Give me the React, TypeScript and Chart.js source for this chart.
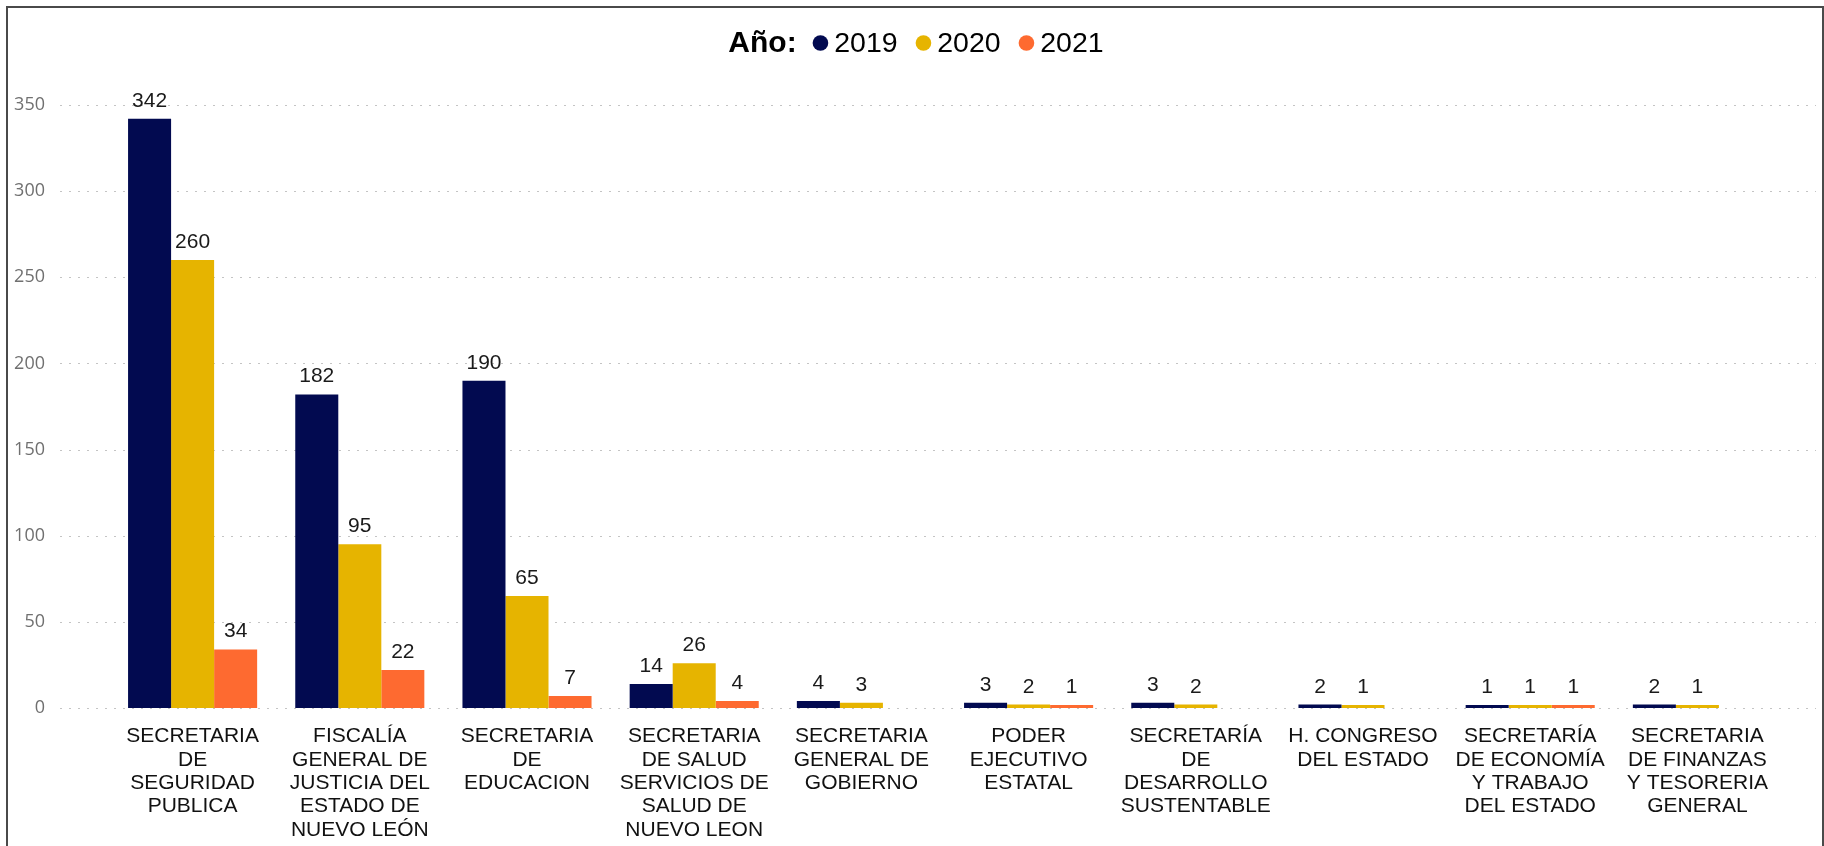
import React, { useEffect, useRef } from "react";
import { Chart, registerables } from "chart.js";

Chart.register(...registerables);

// ---- data ----
const categories: string[][] = [
  ["SECRETARIA", "DE", "SEGURIDAD", "PUBLICA"],
  ["FISCALÍA", "GENERAL DE", "JUSTICIA DEL", "ESTADO DE", "NUEVO LEÓN"],
  ["SECRETARIA", "DE", "EDUCACION"],
  ["SECRETARIA", "DE SALUD", "SERVICIOS DE", "SALUD DE", "NUEVO LEON"],
  ["SECRETARIA", "GENERAL DE", "GOBIERNO"],
  ["PODER", "EJECUTIVO", "ESTATAL"],
  ["SECRETARÍA", "DE", "DESARROLLO", "SUSTENTABLE"],
  ["H. CONGRESO", "DEL ESTADO"],
  ["SECRETARÍA", "DE ECONOMÍA", "Y TRABAJO", "DEL ESTADO"],
  ["SECRETARIA", "DE FINANZAS", "Y TESORERIA", "GENERAL"],
];

const values2019: (number | null)[] = [342, 182, 190, 14, 4, 3, 3, 2, 1, 2];
const values2020: (number | null)[] = [260, 95, 65, 26, 3, 2, 2, 1, 1, 1];
const values2021: (number | null)[] = [34, 22, 7, 4, null, 1, null, null, 1, null];

const years = ["2019", "2020", "2021"];
const yearColors = ["#020A50", "#E6B400", "#FE6A30"];
const legendTitle = "Año:";

const yMin = 0;
const yMax = 350;
const yStep = 50;

const LABEL_FONT = '"Liberation Sans", Arial, sans-serif';

export default function App() {
  const ref = useRef<HTMLCanvasElement>(null);

  useEffect(() => {
    const canvas = ref.current;
    if (!canvas) return;

    const dotGrid = {
      id: "dotGrid",
      beforeDatasetsDraw(chart: any) {
        const y = chart.scales.y;
        const ctx = chart.ctx;
        ctx.save();
        ctx.strokeStyle = "#c4c4c4";
        ctx.lineWidth = 1;
        ctx.setLineDash([2, 7]);
        y.ticks.forEach((t: any) => {
          const py = Math.round(y.getPixelForValue(t.value)) + 0.5;
          ctx.beginPath();
          ctx.moveTo(60, py);
          ctx.lineTo(1816, py);
          ctx.stroke();
        });
        ctx.restore();
      },
    };

    const valueLabels = {
      id: "valueLabels",
      afterDatasetsDraw(chart: any) {
        const ctx = chart.ctx;
        ctx.save();
        ctx.font = `21px ${LABEL_FONT}`;
        ctx.fillStyle = "#1a1a1a";
        ctx.textAlign = "center";
        ctx.textBaseline = "alphabetic";
        chart.data.datasets.forEach((ds: any, i: number) => {
          const meta = chart.getDatasetMeta(i);
          meta.data.forEach((el: any, j: number) => {
            const v = ds.data[j];
            if (v == null) return;
            ctx.fillText(String(v), el.x, el.y - 12);
          });
        });
        ctx.restore();
      },
    };

    const customLegend = {
      id: "customLegend",
      afterDraw(chart: any) {
        const ctx = chart.ctx;
        ctx.save();
        const boldFont = `bold 30px ${LABEL_FONT}`;
        const normFont = `28.5px ${LABEL_FONT}`;
        const r = 7.8;
        ctx.font = boldFont;
        const titleW = ctx.measureText(legendTitle).width;
        ctx.font = normFont;
        const yearW = years.map((y) => ctx.measureText(y).width);
        const gapTitle = 16;
        const gapDotText = 6;
        const gapItems = 18;
        let total = titleW + gapTitle;
        yearW.forEach((w, i) => {
          total += 2 * r + gapDotText + w + (i < years.length - 1 ? gapItems : 0);
        });
        let x = 916 - total / 2;
        const baseline = 52;
        const cy = 43;
        ctx.fillStyle = "#000";
        ctx.textBaseline = "alphabetic";
        ctx.textAlign = "left";
        ctx.font = boldFont;
        ctx.fillText(legendTitle, x, baseline);
        x += titleW + gapTitle;
        ctx.font = normFont;
        years.forEach((y, i) => {
          ctx.beginPath();
          ctx.fillStyle = yearColors[i];
          ctx.arc(x + r, cy, r, 0, Math.PI * 2);
          ctx.fill();
          x += 2 * r + gapDotText;
          ctx.fillStyle = "#000";
          ctx.fillText(y, x, baseline);
          x += yearW[i] + gapItems;
        });
        ctx.restore();
      },
    };

    const seriesValues = [values2019, values2020, values2021];

    const chart = new Chart(canvas, {
      type: "bar",
      data: {
        labels: categories,
        datasets: years.map((y, i) => ({
          label: y,
          data: seriesValues[i],
          backgroundColor: yearColors[i],
          borderWidth: 0,
          categoryPercentage: 0.772,
          barPercentage: 1,
          minBarLength: 3,
        })),
      },
      options: {
        responsive: false,
        animation: false,
        devicePixelRatio: 1,
        layout: { padding: { top: 105, right: 43, left: 0, bottom: 0 } },
        plugins: {
          legend: { display: false },
          tooltip: { enabled: false },
          title: { display: false },
        },
        scales: {
          x: {
            grid: { display: false, drawTicks: false },
            border: { display: false },
            ticks: {
              autoSkip: false,
              maxRotation: 0,
              minRotation: 0,
              padding: 17,
              color: "#111",
              font: { family: LABEL_FONT, size: 21, lineHeight: 1.11 },
            },
            afterFit(scale: any) {
              scale.height = 138;
            },
          },
          y: {
            min: yMin,
            max: yMax,
            grid: { display: false, drawTicks: false },
            border: { display: false },
            ticks: {
              stepSize: yStep,
              padding: 64,
              color: "#707070",
              font: { family: '"Open Sans", "Noto Sans", sans-serif', size: 18 },
            },
            afterFit(scale: any) {
              scale.width = 109;
            },
          },
        },
      },
      plugins: [dotGrid, valueLabels, customLegend],
    });

    return () => chart.destroy();
  }, []);

  return (
    <div
      style={{
        position: "absolute",
        left: 0,
        top: 0,
        width: 1824,
        height: 846,
        background: "#fff",
        overflow: "hidden",
      }}
    >
      <canvas
        ref={ref}
        width={1824}
        height={846}
        style={{ display: "block", width: 1824, height: 846 }}
      />
      <div
        style={{
          position: "absolute",
          left: 6,
          top: 6,
          width: 1818,
          height: 900,
          boxSizing: "border-box",
          borderTop: "2px solid #4a4a4a",
          borderLeft: "2px solid #4a4a4a",
          borderRight: "2px solid #4a4a4a",
          pointerEvents: "none",
        }}
      />
    </div>
  );
}
